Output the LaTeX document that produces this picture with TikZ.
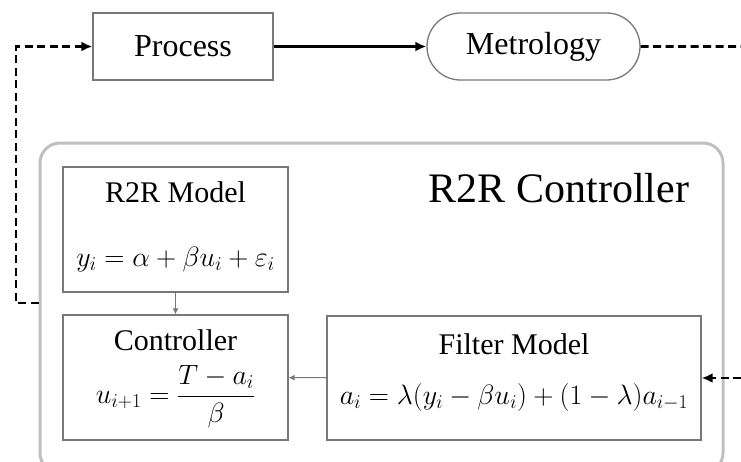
\RequirePackage{fix-cm}
\documentclass[tikz,border=0pt]{standalone}
\usepackage{amsmath}
\usepackage{fontspec}
\setmainfont{Liberation Serif}
\usetikzlibrary{arrows,arrows.meta,calc,positioning,shapes}

\definecolor{boxgray}{RGB}{120,120,120}
\definecolor{framegray}{RGB}{191,191,191}

\begin{document}
\begin{tikzpicture}[x=1pt,y=-1pt]
% box shapes and colors
\tikzstyle{block}=[rectangle,draw=boxgray,line width=1.3pt,inner sep=0pt]
\tikzstyle{terminal}=[rounded rectangle,draw=boxgray,line width=1.3pt,inner sep=0pt]
\tikzstyle{ctrlframe}=[rectangle,draw=framegray,line width=3pt,rounded corners=20pt,inner sep=0pt]
\tikzstyle{feedback}=[->,>={Latex[length=11pt,width=10pt]},dash pattern=on 8pt off 4.5pt,line width=2.6pt]
\tikzstyle{link}=[->,>={Latex[length=6pt,width=6pt]},draw=boxgray,fill=boxgray,line width=1pt]
\tikzstyle{boxtitle}=[anchor=base,inner sep=0pt,font=\fontsize{30}{36}\selectfont]
\tikzstyle{eqn}=[anchor=base,inner sep=0pt,font=\fontsize{28}{34}\selectfont]

\useasboundingbox (0,0) rectangle (741,461);

% nodes
\node[ctrlframe,minimum width=683pt,minimum height=330pt] (ctrl) at (381.5,308) {};
\node[block,minimum width=180pt,minimum height=67pt,font=\fontsize{32}{38}\selectfont] (process) at (183,46.5) {Process};
\node[terminal,minimum width=213pt,minimum height=67pt,font=\fontsize{32}{38}\selectfont] (metrology) at (533.5,46.5) {Metrology};
\node[block,minimum width=225pt,minimum height=125pt] (model) at (175.5,229.5) {};
\node[block,minimum width=225pt,minimum height=125pt] (controller) at (175.5,377.5) {};
\node[block,minimum width=374pt,minimum height=124pt] (filter) at (514,378) {};
\node[anchor=base,inner sep=0pt,font=\fontsize{42}{50}\selectfont] (ctrl-label) at (559,202) {R2R Controller};

% box contents
\node[boxtitle] (model-title) at ($(model.north)+(0,36)$) {R2R Model};
\node[eqn] (model-eq) at ($(model.north)+(0,100)$) {$y_i=\alpha+\beta u_i+\varepsilon_i$};
\node[boxtitle] (controller-title) at ($(controller.north)+(0,36)$) {Controller};
\node[eqn,anchor=center] (controller-eq) at ($(controller.north)+(0,82)$) {$u_{i+1}=\dfrac{T-a_i}{\beta}$};
\node[boxtitle] (filter-title) at ($(filter.north)+(0,39)$) {Filter Model};
\node[eqn] (filter-eq) at ($(filter.north)+(0,89)$) {$a_i=\lambda(y_i-\beta u_i)+(1-\lambda)a_{i-1}$};

% loop ends
\coordinate (ctrl-out) at ($(ctrl.west)+(0,-5)$);
\coordinate (left-turn) at (16,303);
\coordinate (right-out) at (741,46.5);
\coordinate (right-in) at (741,378);

% arrows
\draw[->,>={Latex[length=11pt,width=10pt]},line width=2.8pt] (process) -- (metrology);
\draw[feedback] (ctrl-out) -- (left-turn) |- (process.west);
\draw[feedback,-] (metrology) -- (right-out);
\draw[feedback] (right-in) -- (filter.east);
\foreach \from/\to in {model/controller,filter/controller}
\draw[link] (\from) -- (\to);
\end{tikzpicture}
\end{document}
